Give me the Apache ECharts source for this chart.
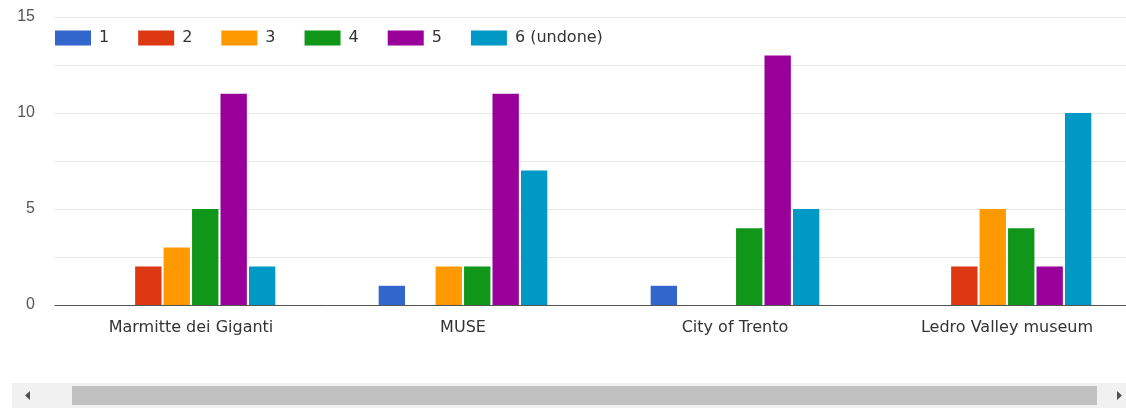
<!DOCTYPE html>
<html>
<head>
<meta charset="utf-8">
<script src="https://cdn.jsdelivr.net/npm/echarts@6/dist/echarts.min.js"></script>
<style>html,body{margin:0;padding:0;background:#fff;overflow:hidden;}#c{width:1143px;height:409px;}</style>
</head>
<body>
<div id="c"></div>
<script>
const categories = ['Marmitte dei Giganti', 'MUSE', 'City of Trento', 'Ledro Valley museum'];
const seriesNames = ['1', '2', '3', '4', '5', '6 (undone)'];
const s1 = [0, 1, 1, 0];
const s2 = [2, 0, 0, 2];
const s3 = [3, 2, 0, 5];
const s4 = [5, 2, 4, 4];
const s5 = [11, 11, 13, 2];
const s6 = [2, 7, 5, 10];
const yTickLabels = ['0', '5', '10', '15'];
const colors = ['#3366cc', '#dc3912', '#ff9900', '#109618', '#990099', '#0099c6'];

const allValues = [s1, s2, s3, s4, s5, s6];
const chart = echarts.init(document.getElementById('c'), null, {renderer: 'canvas'});
const font = 'Liberation Sans, Arial, sans-serif';
const wide = 'DejaVu Sans, sans-serif';

chart.setOption({
  animation: false,
  color: colors,
  textStyle: {fontFamily: font},
  legend: {
    left: 50, top: 25,
    itemWidth: 36, itemHeight: 15, itemGap: 29,
    icon: 'rect',
    textStyle: {fontSize: 16, color: '#333', fontFamily: wide, padding: [0, 0, 0, 3]},
    data: seriesNames
  },
  grid: {left: 55, right: 0, top: 17, bottom: 104},
  xAxis: {
    type: 'category',
    data: categories,
    axisTick: {show: false},
    axisLine: {lineStyle: {color: '#555', width: 1}},
    axisLabel: {fontSize: 16, color: '#333', margin: 15, fontFamily: wide, interval: 0}
  },
  yAxis: {
    type: 'value', min: 0, max: 15, interval: 2.5,
    axisLine: {show: false}, axisTick: {show: false},
    splitLine: {lineStyle: {color: '#e8e8e8', width: 1}},
    axisLabel: {
      fontSize: 16, color: '#555', margin: 20, fontFamily: font, padding: [4, 0, 0, 0],
      formatter: v => (yTickLabels.indexOf(String(v)) >= 0 ? String(v) : '')
    }
  },
  series: seriesNames.map((n, i) => ({
    name: n, type: 'bar', data: allValues[i],
    barCategoryGap: '38%', barGap: '8%'
  })),
  graphic: [
    {type: 'rect', shape: {x: 12, y: 383, width: 1114, height: 25}, style: {fill: '#f1f1f1'}},
    {type: 'rect', shape: {x: 72, y: 386, width: 1025, height: 19}, style: {fill: '#c1c1c1'}},
    {type: 'polygon', shape: {points: [[30, 391], [30, 400], [25, 395.5]]}, style: {fill: '#505050'}},
    {type: 'polygon', shape: {points: [[1117, 391], [1117, 400], [1122, 395.5]]}, style: {fill: '#505050'}}
  ]
});
</script>
</body>
</html>
